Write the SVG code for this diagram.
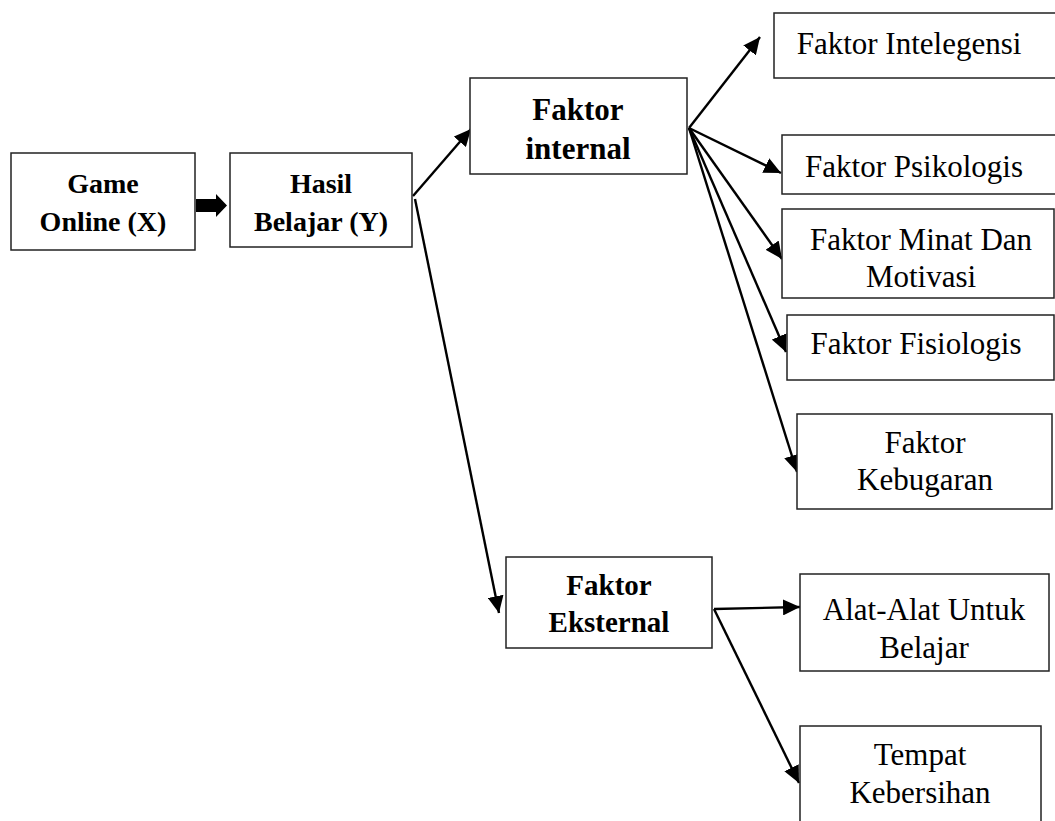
<svg xmlns="http://www.w3.org/2000/svg" width="1055" height="821" viewBox="0 0 1055 821">
<defs>
<style>
.box{fill:#fff;stroke:#222;stroke-width:1.5}
.b{font-family:'Liberation Serif','Times New Roman','DejaVu Serif',serif;font-weight:bold;fill:#000;text-anchor:middle}
.r{font-family:'Liberation Serif','Times New Roman','DejaVu Serif',serif;font-size:31px;fill:#000;text-anchor:middle}
.c{stroke:#000;stroke-width:2.4;fill:none;marker-end:url(#ah)}
</style>
<marker id="ah" markerUnits="userSpaceOnUse" markerWidth="18" markerHeight="16" refX="17" refY="8" orient="auto" viewBox="0 0 18 16">
<path d="M0,0 L17,8 L0,16 Z" fill="#000"/>
</marker>
</defs>
<rect width="1055" height="821" fill="#fff"/>
<g id="connectors">
<path d="M196,199 H216 V194 L227,205.5 L216,217 V212 H196 Z" fill="#000"/>
<line class="c" x1="413" y1="196" x2="471" y2="129"/>
<line class="c" x1="415" y1="199" x2="499" y2="613"/>
<line class="c" x1="689" y1="128" x2="760" y2="37"/>
<line class="c" x1="689" y1="128" x2="781" y2="173"/>
<line class="c" x1="689" y1="128" x2="782" y2="259"/>
<line class="c" x1="689" y1="128" x2="786" y2="352"/>
<line class="c" x1="689" y1="128" x2="797" y2="472"/>
<line class="c" x1="714" y1="609" x2="800" y2="607"/>
<line class="c" x1="714" y1="609" x2="799" y2="783"/>
</g>
<g id="game-online">
<rect class="box" x="11" y="153" width="184" height="97"/>
<text class="b" font-size="28" x="103" y="193">Game</text>
<text class="b" font-size="28" x="103" y="231">Online (X)</text>
</g>
<g id="hasil-belajar">
<rect class="box" x="230" y="153" width="182" height="94"/>
<text class="b" font-size="28" x="321" y="193">Hasil</text>
<text class="b" font-size="28" x="321" y="231">Belajar (Y)</text>
</g>
<g id="faktor-internal">
<rect class="box" x="470" y="78" width="217" height="96"/>
<text class="b" font-size="31" x="578" y="120">Faktor</text>
<text class="b" font-size="31" x="578" y="159">internal</text>
</g>
<g id="faktor-intelegensi">
<rect class="box" x="774" y="13" width="290" height="65"/>
<text class="r" x="909" y="54">Faktor Intelegensi</text>
</g>
<g id="faktor-psikologis">
<rect class="box" x="782" y="135" width="290" height="59"/>
<text class="r" x="914" y="177">Faktor Psikologis</text>
</g>
<g id="faktor-minat">
<rect class="box" x="782" y="209" width="272" height="89"/>
<text class="r" x="921" y="250">Faktor Minat Dan</text>
<text class="r" x="921" y="287">Motivasi</text>
</g>
<g id="faktor-fisiologis">
<rect class="box" x="787" y="315" width="267" height="65"/>
<text class="r" x="916" y="354">Faktor Fisiologis</text>
</g>
<g id="faktor-kebugaran">
<rect class="box" x="797" y="414" width="255" height="95"/>
<text class="r" x="925" y="453">Faktor</text>
<text class="r" x="925" y="490">Kebugaran</text>
</g>
<g id="faktor-eksternal">
<rect class="box" x="506" y="557" width="206" height="91"/>
<text class="b" font-size="29" x="609" y="595">Faktor</text>
<text class="b" font-size="29" x="609" y="632">Eksternal</text>
</g>
<g id="alat-belajar">
<rect class="box" x="800" y="574" width="249" height="97"/>
<text class="r" x="924" y="620">Alat-Alat Untuk</text>
<text class="r" x="924" y="658">Belajar</text>
</g>
<g id="tempat-kebersihan">
<rect class="box" x="800" y="726" width="241" height="110"/>
<text class="r" x="920" y="765">Tempat</text>
<text class="r" x="920" y="803">Kebersihan</text>
</g>
</svg>
